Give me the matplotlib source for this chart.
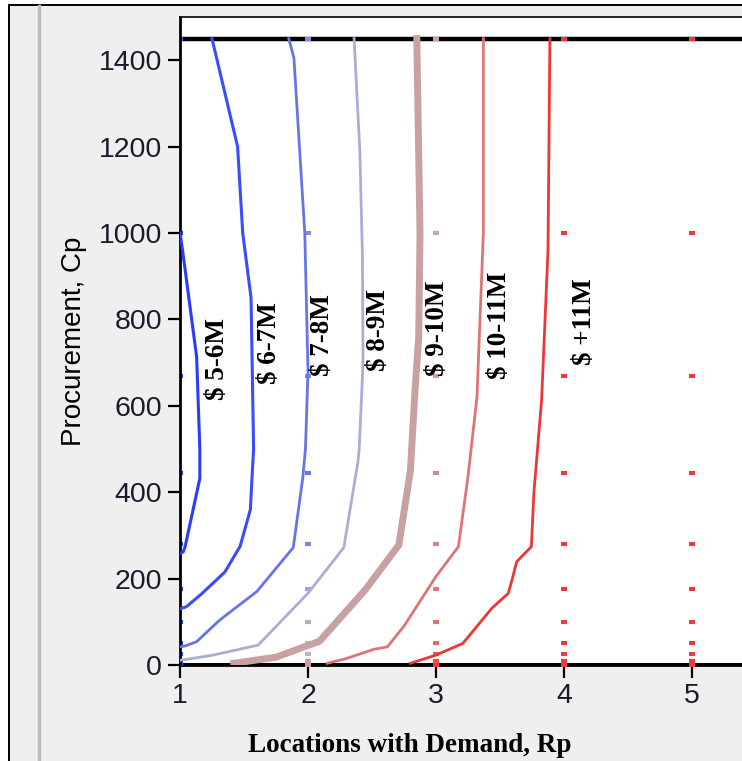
import matplotlib
matplotlib.use("Agg")
import matplotlib.pyplot as plt
from matplotlib.patches import Rectangle
from matplotlib.lines import Line2D

# contour lines (Rp, Cp)
a_x = [1.0, 1.02, 1.13, 1.155, 1.155, 1.04, 1.025, 1.0]
a_y = [1000, 960, 713, 500, 432, 274, 262, 258]
b_x = [1.25, 1.45, 1.49, 1.555, 1.575, 1.56, 1.55, 1.47, 1.35, 1.17, 1.05, 1.0]
b_y = [1450, 1200, 1000, 850, 500, 420, 360, 275, 215, 165, 135, 130]
c_x = [1.85, 1.89, 1.975, 2.0, 1.98, 1.96, 1.885, 1.6, 1.31, 1.13, 1.04, 1.0]
c_y = [1450, 1405, 1000, 680, 500, 435, 272, 170, 104, 54, 44, 42]
d_x = [2.36, 2.405, 2.425, 2.43, 2.40, 2.39, 2.28, 2.0, 1.61, 1.26, 1.03, 1.0]
d_y = [1450, 1190, 950, 700, 500, 470, 272, 166, 46, 23, 12, 11]
e_x = [2.85, 2.875, 2.865, 2.835, 2.80, 2.71, 2.45, 2.09, 1.75, 1.42]
e_y = [1450, 1000, 760, 630, 450, 278, 175, 55, 18, 4]
f_x = [3.37, 3.37, 3.32, 3.25, 3.175, 3.0, 2.75, 2.62, 2.51, 2.30, 2.15]
f_y = [1450, 1000, 620, 436, 274, 205, 90, 42, 36, 15, 4]
g_x = [3.89, 3.875, 3.825, 3.765, 3.745, 3.63, 3.60, 3.565, 3.435, 3.21, 3.0, 2.80]
g_y = [1450, 960, 613, 400, 274, 239, 204, 166, 131, 50, 23, 4]

labels = ["$ 5-6M", "$ 6-7M", "$ 7-8M", "$ 8-9M", "$ 9-10M", "$ 10-11M", "$ +11M"]
label_x = [1.29, 1.70, 2.11, 2.55, 3.01, 3.50, 4.16]
label_y = [708, 745, 764, 775, 780, 787, 794]

# grid of evaluated points
rp_grid = [1, 2, 3, 4, 5]
cp_grid = [0, 10, 25, 50, 100, 175, 280, 445, 670, 1000, 1450]

blue, red = "#3344ff", "#ee3a3a"
col2 = ["#c8a0a0", "#c8a0a0", "#b8b8b8", "#b8b8b8", "#b0b0c0", "#a0a4cf",
        "#8088d8", "#6a78e0", "#7f8ee8", "#7f8ee8", "#7f8ee8"]
col3 = [red, "#e85050", "#e56060", "#e36a6a", "#e27070", "#e07777",
        "#d88888", "#d09090", "#c8a0a0", "#c9a8a8", "#c9a3a3"]
grid_colors = [[blue] * 11, col2, col3, [red] * 11, [red] * 11]

fig = plt.figure(figsize=(7.42, 7.61), dpi=100, facecolor="white")
fig.add_artist(Rectangle((8.5 / 742, -0.01), 1.0, (761 - 5) / 761 + 0.01,
                         transform=fig.transFigure, facecolor="#efefef",
                         edgecolor="black", lw=1.4, zorder=0))
fig.add_artist(Line2D([38.5 / 742] * 2, [0, (761 - 6) / 761], transform=fig.transFigure,
                      color="#bdbdbd", lw=2.5, zorder=1))

ax = fig.add_axes([180 / 742, 96 / 761, 1.0, (665 - 17) / 761])
ax.set_facecolor("white")
ax.set_xlim(1, 1 + 742 / 128)
ax.set_ylim(0, 1500)

ax.axhline(1450, color="black", lw=3.2, zorder=2)
ax.axhline(0, color="black", lw=3.6, zorder=2)

for xi, cols in zip(rp_grid, grid_colors):
    for yi, cc in zip(cp_grid, cols):
        ax.plot(xi, yi, marker="_", ms=5, mew=3, color=cc, zorder=3,
                clip_on=(xi == 1))

styles = [(a_x, a_y, "#2a3cff", 2.2), (b_x, b_y, "#3a4cff", 2.2),
          (c_x, c_y, "#6674e8", 2.0), (d_x, d_y, "#aaaed6", 2.0),
          (e_x, e_y, "#c9a1a1", 5.0), (f_x, f_y, "#e07474", 2.0),
          (g_x, g_y, "#ee3636", 2.0)]
for xs, ys, cc, lw in styles:
    ax.plot(xs, ys, color=cc, lw=lw, zorder=4, solid_joinstyle="round")

for t, lx, ly in zip(labels, label_x, label_y):
    ax.text(lx, ly, t, rotation=90, ha="center", va="center",
            family="Liberation Serif", fontweight="bold", fontsize=19.5, zorder=5)

ax.set_xticks([1, 2, 3, 4, 5])
ax.set_yticks(range(0, 1401, 200))
ax.tick_params(direction="out", length=9, width=1.6, labelsize=20.5,
               labelcolor="#1a1a2a", pad=4)
for lab in ax.get_xticklabels() + ax.get_yticklabels():
    lab.set_family("Liberation Sans")
ax.spines["right"].set_visible(False)
ax.spines["left"].set_linewidth(2.0)
ax.spines["bottom"].set_linewidth(2.0)
ax.spines["top"].set_linewidth(1.2)
ax.spines["left"].set_zorder(3.5)

ax.set_ylabel("Procurement, Cp", family="Liberation Sans", fontsize=20, labelpad=8)
fig.text(410 / 742, 1 - 745 / 761, "Locations with Demand, Rp", ha="center",
         va="center", family="Liberation Serif", fontweight="bold", fontsize=19.5)

fig.savefig("out.png", dpi=100, facecolor=fig.get_facecolor())
